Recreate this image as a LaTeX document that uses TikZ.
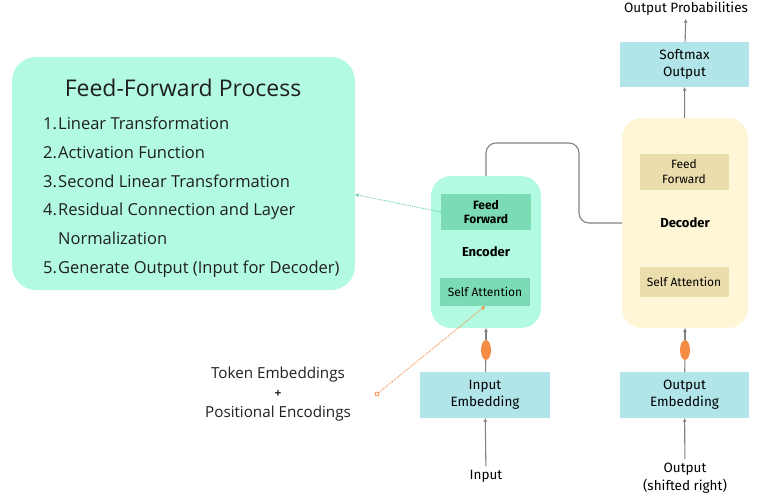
\documentclass[tikz,border=0pt]{standalone}
\usepackage{fontspec}
\setmainfont{Open Sans}
\newfontfamily\boxfont{Fira Sans}
\usetikzlibrary{arrows.meta,shapes.geometric}
\definecolor{mint}{RGB}{179,250,226}
\definecolor{mintdark}{RGB}{122,219,180}
\definecolor{cream}{RGB}{254,246,214}
\definecolor{creamdark}{RGB}{235,222,172}
\definecolor{aqua}{RGB}{178,229,234}
\definecolor{flowgray}{RGB}{130,130,130}
\definecolor{tangerine}{RGB}{245,140,70}
\definecolor{dotgreen}{RGB}{105,205,175}
\tikzset{
  panel/.style  ={rounded corners=24pt, fill=mint, minimum width=343pt,
                  minimum height=233pt},
  encblk/.style ={rounded corners=20pt, fill=mint, minimum width=110pt,
                  minimum height=152pt},
  decblk/.style ={rounded corners=20pt, fill=cream, minimum width=126pt,
                  minimum height=210pt},
  encsub/.style ={fill=mintdark, minimum width=90pt, inner sep=1pt,
                  font=\boxfont\fontsize{12}{15}\selectfont, align=center},
  decsub/.style ={fill=creamdark, minimum width=89pt, inner sep=1pt,
                  font=\boxfont\fontsize{12}{15}\selectfont, align=center},
  embbox/.style ={fill=aqua, minimum width=129pt, minimum height=46pt,
                  inner sep=1pt, align=center,
                  font=\boxfont\fontsize{13.5}{17}\selectfont},
  blklbl/.style ={font=\boxfont\bfseries\fontsize{13}{15}\selectfont},
  plain/.style  ={font=\boxfont\fontsize{13.5}{18}\selectfont, align=center},
  item/.style   ={anchor=base west, inner sep=0pt,
                  font=\fontsize{16.5}{19}\selectfont, text=black!88},
  tok/.style    ={font=\fontsize{15.2}{18}\selectfont, text=black!88},
  flow/.style   ={-{Stealth[length=4pt,width=4pt]}, line width=1.1pt,
                  flowgray},
  link/.style   ={line width=1.1pt, flowgray, rounded corners=10pt},
  ffarr/.style  ={-{Stealth[length=4pt,width=4pt]}, line width=0.9pt,
                  dotgreen, densely dotted},
  tokarr/.style ={-{Stealth[length=4pt,width=4pt]}, line width=0.9pt,
                  tangerine, densely dotted},
  bead/.style   ={ellipse, fill=tangerine, minimum width=10pt,
                  minimum height=20pt, inner sep=0pt},
}
\begin{document}
\begin{tikzpicture}[x=1pt,y=-1pt]
  \useasboundingbox (0,0) rectangle (766,497);
  % left panel
  \node[panel] (ffpanel) at (183.5,173.5) {};
  \node[font=\fontsize{23}{27}\selectfont, text=black!88] (fftitle)
    at (183,88) {Feed-Forward Process};
  \node[item] (n1) at (43,130) {1.};
  \node[item] (l1) at (58,130) {Linear Transformation};
  \node[item] (n2) at (43,158.6) {2.};
  \node[item] (l2) at (58,158.6) {Activation Function};
  \node[item] (n3) at (43,187.2) {3.};
  \node[item] (l3) at (58,187.2) {Second Linear Transformation};
  \node[item] (n4) at (43,215.8) {4.};
  \node[item] (l4) at (58,215.8) {Residual Connection and Layer};
  \node[item] (l4b) at (58,244.4) {Normalization};
  \node[item] (n5) at (43,273) {5.};
  \node[item] (l5) at (58,273) {Generate Output (Input for Decoder)};

  % encoder
  \node[encblk] (enc) at (486,252) {};
  \node[encsub, minimum height=36pt, font=\boxfont\bfseries\fontsize{12}{14.5}\selectfont]
    (encff) at (486,212) {Feed\\Forward};
  \node[blklbl] (enclbl) at (486,252) {Encoder};
  \node[encsub, minimum height=28pt] (encsa) at (485,292) {Self Attention};
  \node[embbox, minimum width=130pt] (inemb) at (485,395) {Input\\Embedding};
  \node[bead] (encbead) at (486,350) {};
  \node[plain] (inlbl) at (486,476) {Input};

  % decoder
  \node[decblk] (dec) at (685,223) {};
  \node[decsub, minimum height=36pt] (decff) at (684,172) {Feed\\Forward};
  \node[blklbl] (declbl) at (685,223) {Decoder};
  \node[decsub, minimum height=29pt] (decsa) at (684,282) {Self Attention};
  \node[embbox] (outemb) at (684.5,395) {Output\\Embedding};
  \node[bead] (decbead) at (685,350) {};
  \node[plain] (outlbl) at (685,478) {Output\\(shifted right)};
  \node[embbox, minimum height=45pt] (soft) at (684.5,64.5) {Softmax\\Output};
  \node[plain] (prob) at (686,9) {Output Probabilities};

  % token embeddings
  \node[tok] (tok1) at (278,375) {Token Embeddings};
  \node[tok, font=\bfseries\fontsize{12}{14}\selectfont] (tokplus) at (278,394) {+};
  \node[tok] (tok2) at (278,414) {Positional Encodings};
  \node[circle, draw=tangerine, line width=0.8pt, minimum size=4pt,
        inner sep=0pt] (tokdot) at (377,394) {};

  % connectors
  \draw[flow] (inlbl) -- (inemb);
  \draw[flowgray, line width=1.1pt] (inemb) -- (encbead);
  \draw[flow] (encbead) -- (enc);
  \draw[flow] (outlbl) -- (outemb);
  \draw[flowgray, line width=1.1pt] (outemb) -- (decbead);
  \draw[flow] (decbead) -- (dec);
  \draw[flow] (dec) -- (soft);
  \draw[flow] (soft) -- (prob);
  \draw[link] (enc.north) |- (579,143) |- (dec.west);
  \draw[ffarr] (encff.west) -- (ffpanel.-7);
  \draw[tokarr] (tokdot) -- (encsa.south);
\end{tikzpicture}
\end{document}
